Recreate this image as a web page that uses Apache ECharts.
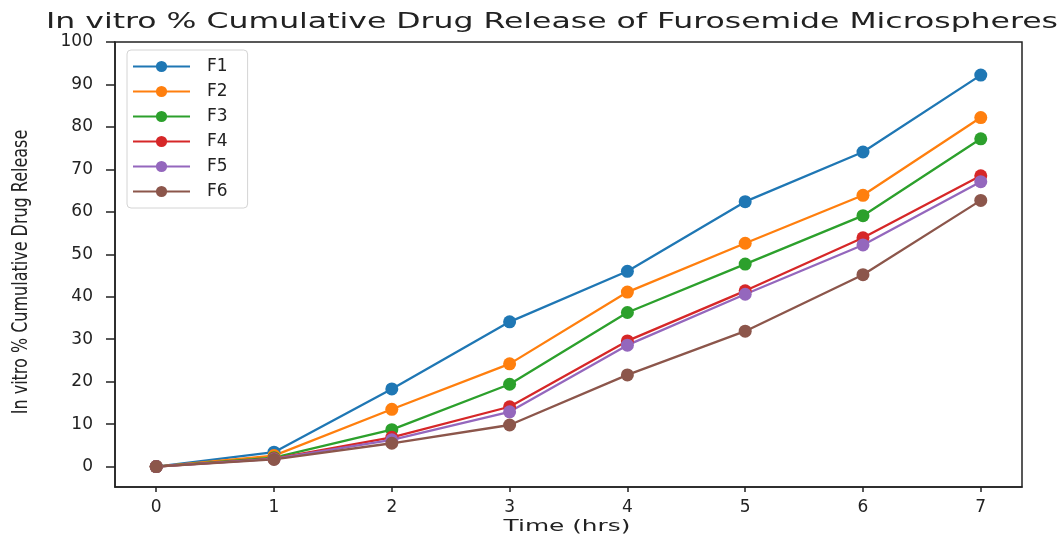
<!DOCTYPE html>
<html>
<head>
<meta charset="utf-8">
<script src="https://cdn.jsdelivr.net/npm/echarts@6/dist/echarts.min.js"></script>
<style>
  html, body { margin: 0; padding: 0; background: #fff; }
  #chart { width: 1059px; height: 539px; }
</style>
</head>
<body>
<div id="chart"></div>
<script>
// Time points (hours)
const time = [0, 1, 2, 3, 4, 5, 6, 7];

// Cumulative drug release (%) for each formulation
const F1 = [0, 3.4, 18.3, 34.1, 46.0, 62.4, 74.1, 92.2];
const F2 = [0, 2.6, 13.5, 24.2, 41.1, 52.6, 63.9, 82.2];
const F3 = [0, 2.1, 8.7, 19.4, 36.3, 47.7, 59.1, 77.2];
const F4 = [0, 1.9, 6.9, 14.1, 29.6, 41.4, 53.9, 68.5];
const F5 = [0, 1.8, 6.3, 12.9, 28.6, 40.6, 52.2, 67.1];
const F6 = [0, 1.7, 5.5, 9.8, 21.6, 31.9, 45.2, 62.7];

const seriesNames = ['F1', 'F2', 'F3', 'F4', 'F5', 'F6'];
const seriesValues = [F1, F2, F3, F4, F5, F6];
const colors = ['#1f77b4', '#ff7f0e', '#2ca02c', '#d62728', '#9467bd', '#8c564b'];

// Tick positions
const xTicks = [0, 1, 2, 3, 4, 5, 6, 7];
const yTicks = [0, 10, 20, 30, 40, 50, 60, 70, 80, 90, 100];

const titleText = 'In vitro % Cumulative Drug Release of Furosemide Microspheres';
const xName = 'Time (hrs)';
const yName = 'In vitro % Cumulative Drug Release';

const FONT = '"DejaVu Sans", sans-serif';
const FONT_NARROW = '"DejaVu Sans Condensed", "Liberation Sans Narrow", "DejaVu Sans", sans-serif';
const INK = '#222';

const chart = echarts.init(document.getElementById('chart'), null, { renderer: 'canvas' });

const option = {
  animation: false,
  backgroundColor: '#fff',
  color: colors,
  grid: {
    left: 115, right: 37, top: 42, bottom: 52,
    show: true, borderColor: INK, borderWidth: 1.5, backgroundColor: 'transparent'
  },
  legend: {
    orient: 'vertical',
    left: 127, top: 50,
    itemWidth: 57, itemHeight: 14, itemGap: 8,
    padding: [8, 20, 8, 5],
    backgroundColor: 'rgba(255,255,255,0.85)',
    borderColor: '#d4d4d4', borderWidth: 1, borderRadius: 4,
    textStyle: { fontFamily: FONT, fontSize: 17, color: INK, padding: [0, 0, 0, 12] },
    data: seriesNames
  },
  xAxis: {
    type: 'value', min: -0.35, max: 7.35,
    splitLine: { show: false },
    axisLine: { show: true, onZero: false, lineStyle: { color: INK, width: 1.5 } },
    axisTick: { show: true, customValues: xTicks, length: 5, lineStyle: { color: INK, width: 1.5 } },
    axisLabel: { customValues: xTicks, fontFamily: FONT, fontSize: 17, color: INK, margin: 12 }
  },
  yAxis: {
    type: 'value', min: -4.8, max: 100,
    splitLine: { show: false },
    axisLine: { show: true, onZero: false, lineStyle: { color: INK, width: 1.5 } },
    axisTick: { show: true, customValues: yTicks, length: 9, lineStyle: { color: INK, width: 1.5 } },
    axisLabel: { customValues: yTicks, fontFamily: FONT, fontSize: 17, color: INK, margin: 22 }
  },
  series: seriesNames.map((name, i) => ({
    name: name,
    type: 'line',
    data: time.map((t, j) => [t, seriesValues[i][j]]),
    symbol: 'circle',
    symbolSize: 13,
    lineStyle: { width: 2.3, color: colors[i] },
    itemStyle: { color: colors[i] },
    emphasis: { disabled: true }
  })),
  graphic: [
    {
      type: 'text', x: 552, y: 23, scaleX: 1.5,
      style: { text: titleText, font: '21px ' + FONT, fill: INK, align: 'center', verticalAlign: 'middle' }
    },
    {
      type: 'text', x: 567, y: 527, scaleX: 1.55,
      style: { text: xName, font: '16px ' + FONT, fill: INK, align: 'center', verticalAlign: 'middle' }
    },
    {
      type: 'text', x: 22, y: 272, rotation: Math.PI / 2, scaleY: 1.15,
      style: { text: yName, font: '17.8px ' + FONT_NARROW, fill: INK, align: 'center', verticalAlign: 'middle' }
    }
  ]
};

chart.setOption(option);
</script>
</body>
</html>
